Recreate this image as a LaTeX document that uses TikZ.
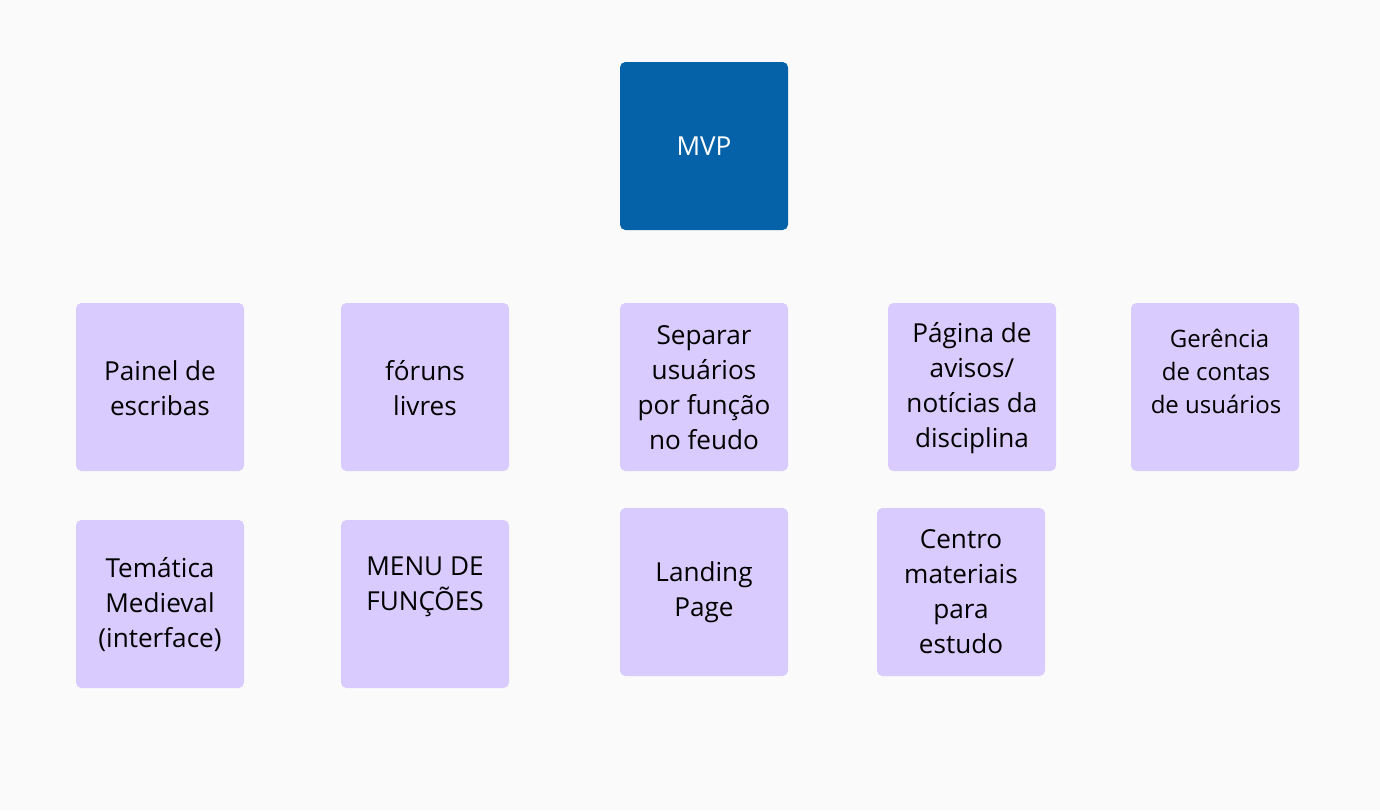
\documentclass[tikz,border=0pt]{standalone}
\usepackage{fontspec}
\setmainfont{Open Sans}
\definecolor{bg}{HTML}{FAFAFA}
\definecolor{note}{HTML}{DACBFE}
\definecolor{mvpblue}{HTML}{0562A8}
\tikzset{
  notebox/.style={fill=note, draw=none, rounded corners=4pt, minimum width=126pt, minimum height=126pt, inner sep=0pt},
  mvpbox/.style={fill=mvpblue, draw=none, rounded corners=4pt, minimum width=126pt, minimum height=126pt, inner sep=0pt},
  notetext/.style={align=center, font=\fontsize{19.6pt}{26.25pt}\selectfont, text=black, inner sep=0pt},
  smalltext/.style={align=center, font=\fontsize{18pt}{24.75pt}\selectfont, text=black, inner sep=0pt}
}
\begin{document}
\begin{tikzpicture}[x=0.75pt,y=-0.75pt]
\fill[bg] (0,0) rectangle (1380,810);
\useasboundingbox (0,0) rectangle (1380,810);
% boxes
\node[mvpbox] (mvp) at (704,146) {};
\node[notebox] (painel) at (160,387) {};
\node[notebox] (foruns) at (425,387) {};
\node[notebox] (separar) at (704,387) {};
\node[notebox] (pagina) at (972,387) {};
\node[notebox] (gerencia) at (1215,387) {};
\node[notebox] (tematica) at (160,604) {};
\node[notebox] (menu) at (425,604) {};
\node[notebox] (landing) at (704,592) {};
\node[notebox] (centro) at (961,592) {};
% texts
\node[notetext, text=white] (tmvp) at (704,146) {MVP};
\node[notetext] (tpainel) at (160,388.5) {Painel de\\escribas};
\node[notetext] (tforuns) at (425,388.5) {fóruns\\livres};
\node[notetext] (tseparar) at (704,388) {Separar\\usuários\\por função\\no feudo};
\node[notetext] (tpagina) at (972,388) {Página de\\avisos/\\notícias da\\disciplina};
\node[smalltext] (tgerencia) at (1216,371.5) {\hspace*{0.3em}Gerência\\de contas\\de usuários};
\node[notetext] (ttematica) at (160,604.5) {Temática\\Medieval\\(interface)};
\node[notetext] (tmenu) at (425,587) {MENU DE\\FUNÇÕES};
\node[notetext] (tlanding) at (704,592) {Landing\\Page};
\node[notetext] (tcentro) at (961,592) {Centro\\materiais\\para\\estudo};
\end{tikzpicture}
\end{document}
